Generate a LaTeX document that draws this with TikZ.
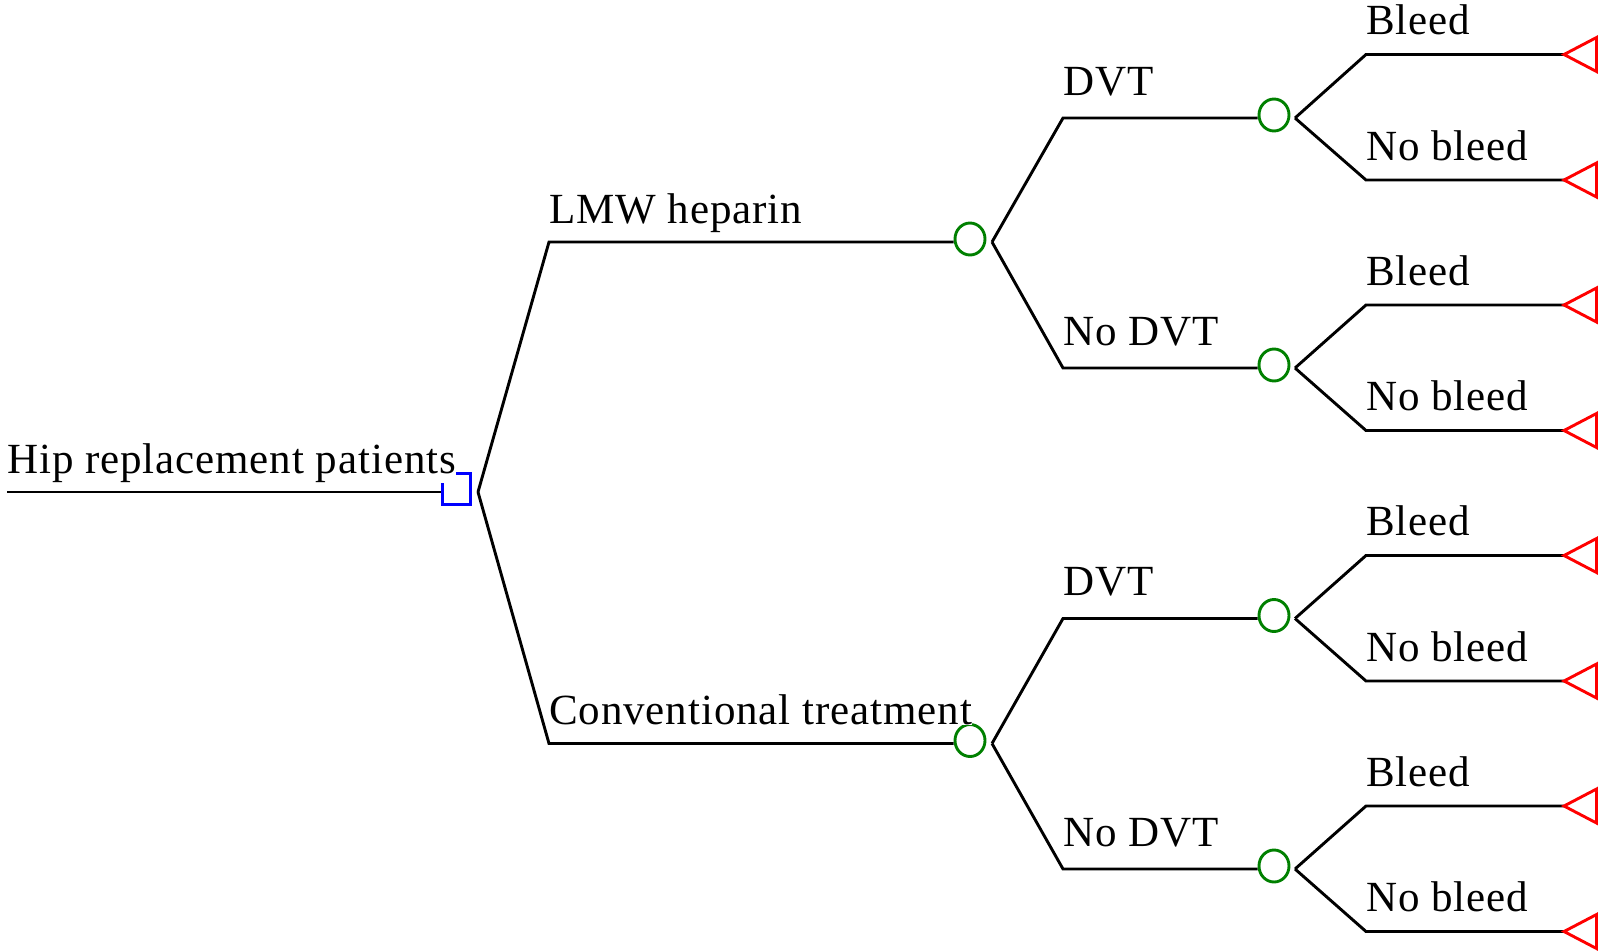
\documentclass[tikz,border=0pt]{standalone}
\usepackage{fontspec}
\setmainfont{Liberation Serif}[LetterSpace=2.1]
\usetikzlibrary{shapes.geometric}
\begin{document}
\begin{tikzpicture}[x=1pt,y=-1pt,
  edge/.style={line width=2.9pt, black},
  decision/.style={draw=blue, line width=2.9pt, rectangle, minimum width=28.5pt,
    minimum height=31.5pt, inner sep=0pt},
  chance/.style={draw=green!50!black, line width=2.9pt, ellipse, minimum width=30pt,
    minimum height=32pt, inner sep=0pt},
  terminal/.style={draw=red, line width=2.9pt, line join=miter},
  lbl/.style={anchor=base west, inner sep=0pt, fill=white, text=black,
    font=\fontsize{43}{51}\selectfont},
]
\useasboundingbox (0,0) rectangle (1604,951);

% y levels of the tree
\def\yR{492}
\def\yA{242}    \def\yB{743.5}
\def\yAa{118} \def\yAb{368} \def\yBa{618.5} \def\yBb{869}

% decision node
\node[decision] (d) at (456.5,489) {};
\coordinate (root) at (7,\yR);
\draw[edge] (root) -- (root -| d.west);
\coordinate (fd) at (478,\yR);

% first chance level
\coordinate (sA) at (549,\yA);
\coordinate (sB) at (549,\yB);
\node[chance] (cA) at (970,\yA-3) {};
\node[chance] (cB) at (970,\yB-3) {};
\draw[edge] (fd) -- (sA) -- (sA -| cA.west);
\draw[edge] (fd) -- (sB) -- (sB -| cB.west);
\coordinate (fA) at (992,\yA);
\coordinate (fB) at (992,\yB);

% second chance level
\coordinate (sAa) at (1063,\yAa);
\coordinate (sAb) at (1063,\yAb);
\coordinate (sBa) at (1063,\yBa);
\coordinate (sBb) at (1063,\yBb);
\node[chance] (cAa) at (1274,\yAa-3) {};
\node[chance] (cAb) at (1274,\yAb-3) {};
\node[chance] (cBa) at (1274,\yBa-3) {};
\node[chance] (cBb) at (1274,\yBb-3) {};
\draw[edge] (fA) -- (sAa) -- (sAa -| cAa.west);
\draw[edge] (fA) -- (sAb) -- (sAb -| cAb.west);
\draw[edge] (fB) -- (sBa) -- (sBa -| cBa.west);
\draw[edge] (fB) -- (sBb) -- (sBb -| cBb.west);
\coordinate (fAa) at (1295,\yAa);
\coordinate (fAb) at (1295,\yAb);
\coordinate (fBa) at (1295,\yBa);
\coordinate (fBb) at (1295,\yBb);

% outcomes with terminal markers
\foreach \i/\y/\f/\t in {1/54.5/fAa/Bleed, 2/180/fAa/No bleed,
                          3/305/fAb/Bleed, 4/430.5/fAb/No bleed,
                          5/555.5/fBa/Bleed, 6/681/fBa/No bleed,
                          7/806/fBb/Bleed, 8/931.5/fBb/No bleed} {
  \coordinate (s\i) at (1366,\y);
  \coordinate (t\i) at (1564,\y);
  \draw[edge] (\f) -- (s\i) -- (t\i);
  \draw[terminal] (t\i) -- ++(32.5,-17) -- ++(0,34) -- cycle;
  \path (s\i) ++(0,-20) node[lbl] (l\i) {\t};
}

% branch labels
\path (root) ++(0,-18.5) node[lbl] (lR) {Hip replacement patients};
\path (sA) ++(0,-19) node[lbl] (lA) {LMW heparin};
\path (sB) ++(0,-19) node[lbl] (lB) {Conventional treatment};
\path (sAa) ++(0,-23) node[lbl] (lAa) {DVT};
\path (sAb) ++(0,-23) node[lbl] (lAb) {No DVT};
\path (sBa) ++(0,-23) node[lbl] (lBa) {DVT};
\path (sBb) ++(0,-23) node[lbl] (lBb) {No DVT};
\end{tikzpicture}
\end{document}
